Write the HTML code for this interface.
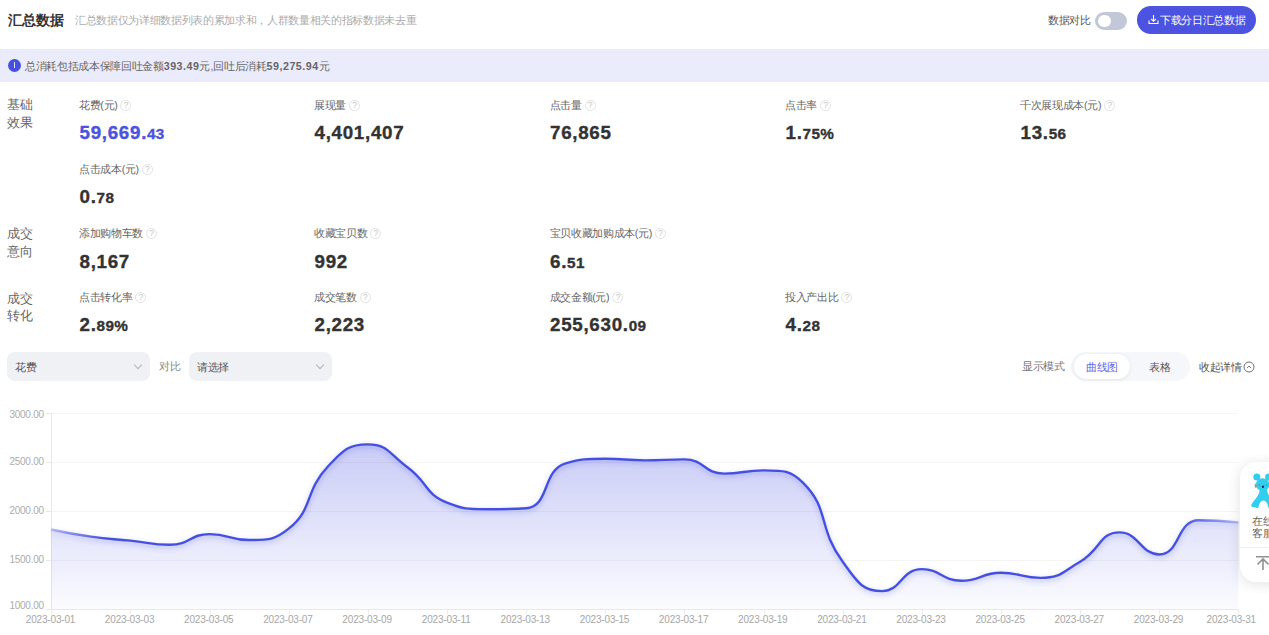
<!DOCTYPE html>
<html><head><meta charset="utf-8">
<style>
html,body{margin:0;padding:0}
body{width:1269px;height:635px;overflow:hidden;position:relative;background:#fff;font-family:"Liberation Sans",sans-serif;color:#333}
.a{position:absolute;white-space:nowrap;line-height:1}
.s{letter-spacing:-0.33px}
.lbl{font-size:10.7px;color:#666;letter-spacing:-0.33px}
.q{display:inline-block;width:9px;height:9px;border:1px solid #e2e2e2;border-radius:50%;color:#c4c4c4;font-size:8.6px;line-height:9.5px;text-align:center;vertical-align:1px;margin-left:3px;font-style:normal;letter-spacing:0}
.val{font-size:18.8px;font-weight:bold;color:#333;letter-spacing:0.7px;-webkit-text-stroke:0.35px currentColor}
.val small{font-size:15.3px;letter-spacing:0.3px}
.grp{font-size:12.5px;color:#666;line-height:17.9px;letter-spacing:0.45px}
.sel{position:absolute;background:#f0f1f5;border-radius:8px;height:29px}
.sel span{position:absolute;left:8px;top:9.5px;font-size:10.7px;color:#555;line-height:1;letter-spacing:-0.33px}
.chev{position:absolute;width:5px;height:5px;border-right:1px solid #b4b4b4;border-bottom:1px solid #b4b4b4;transform:rotate(45deg)}
.yl{position:absolute;font-size:10px;color:#acacac;line-height:1;text-align:right;width:43.8px;letter-spacing:-0.25px}
.xl{position:absolute;font-size:10px;color:#a6a6a6;line-height:1;width:60px;text-align:center;letter-spacing:-0.17px}
b{font-weight:bold;letter-spacing:0.5px}
</style></head><body>
<!-- header -->
<div class="a" style="left:7.5px;top:13px;font-size:14.2px;font-weight:bold;color:#333;letter-spacing:0.1px">汇总数据</div>
<div class="a s" style="left:75px;top:14.5px;font-size:10.7px;color:#aaa">汇总数据仅为详细数据列表的累加求和，人群数量相关的指标数据未去重</div>
<div class="a s" style="left:1048px;top:15px;font-size:10.7px;color:#555">数据对比</div>
<div class="a" style="left:1095.2px;top:12.1px;width:32px;height:17.8px;border-radius:9px;background:#c3c8d9"></div>
<div class="a" style="left:1097.9px;top:14.6px;width:12.8px;height:12.8px;border-radius:50%;background:#fff"></div>
<div class="a" style="left:1137px;top:6px;width:119px;height:28px;border-radius:14px;background:#4b53e0"></div>
<svg class="a" style="left:1148px;top:14px" width="11" height="11" viewBox="0 0 11 11"><path d="M5.5 1v6M3 4.8l2.5 2.4 2.5-2.4M1 6.5v3h9v-3" fill="none" stroke="#fff" stroke-width="1.1"/></svg>
<div class="a s" style="left:1160px;top:14.8px;font-size:10.7px;color:#fff">下载分日汇总数据</div>
<!-- info bar -->
<div class="a" style="left:0;top:48.6px;width:1269px;height:33.5px;background:#ebecfb"></div>
<div class="a" style="left:8px;top:59px;width:13px;height:13px;border-radius:50%;background:#4650e0"></div>
<div class="a" style="left:13.9px;top:62.3px;width:1px;height:5.8px;background:#fff;opacity:0.85"></div>
<div class="a s" style="left:25px;top:60.7px;font-size:10.7px;color:#666">总消耗包括成本保障回吐金额<b>393.49</b>元<span style="margin-left:0.5px">,</span>回吐后消耗<b>59,275.94</b>元</div>
<!-- groups -->
<div class="a grp" style="left:7px;top:97.2px">基础<br>效果</div>
<div class="a grp" style="left:7px;top:226.2px">成交<br>意向</div>
<div class="a grp" style="left:7px;top:290.5px">成交<br>转化</div>
<!-- metrics -->
<div class="a lbl" style="left:79px;top:100px">花费(元)<i class="q">?</i></div>
<div class="a val" style="left:79.5px;top:123.5px;color:#4b53e0">59,669.<small>43</small></div>
<div class="a lbl" style="left:314px;top:100px">展现量<i class="q">?</i></div>
<div class="a val" style="left:314.5px;top:123.5px">4,401,407</div>
<div class="a lbl" style="left:549.5px;top:100px">点击量<i class="q">?</i></div>
<div class="a val" style="left:550.0px;top:123.5px">76,865</div>
<div class="a lbl" style="left:785px;top:100px">点击率<i class="q">?</i></div>
<div class="a val" style="left:785.5px;top:123.5px">1.<small>75%</small></div>
<div class="a lbl" style="left:1020px;top:100px">千次展现成本(元)<i class="q">?</i></div>
<div class="a val" style="left:1020.5px;top:123.5px">13.<small>56</small></div>

<div class="a lbl" style="left:79px;top:164.4px">点击成本(元)<i class="q">?</i></div>
<div class="a val" style="left:79.5px;top:188.0px">0.<small>78</small></div>

<div class="a lbl" style="left:79px;top:228px">添加购物车数<i class="q">?</i></div>
<div class="a val" style="left:79.5px;top:252.5px">8,167</div>
<div class="a lbl" style="left:314px;top:228px">收藏宝贝数<i class="q">?</i></div>
<div class="a val" style="left:314.5px;top:252.5px">992</div>
<div class="a lbl" style="left:549.5px;top:228px">宝贝收藏加购成本(元)<i class="q">?</i></div>
<div class="a val" style="left:550.0px;top:252.5px">6.<small>51</small></div>

<div class="a lbl" style="left:79px;top:292.2px">点击转化率<i class="q">?</i></div>
<div class="a val" style="left:79.5px;top:316.4px">2.<small>89%</small></div>
<div class="a lbl" style="left:314px;top:292.2px">成交笔数<i class="q">?</i></div>
<div class="a val" style="left:314.5px;top:316.4px">2,223</div>
<div class="a lbl" style="left:549.5px;top:292.2px">成交金额(元)<i class="q">?</i></div>
<div class="a val" style="left:550.0px;top:316.4px">255,630.<small>09</small></div>
<div class="a lbl" style="left:785px;top:292.2px">投入产出比<i class="q">?</i></div>
<div class="a val" style="left:785.5px;top:316.4px">4.<small>28</small></div>

<!-- controls -->
<div class="sel" style="left:7px;top:352px;width:143px"><span>花费</span><i class="chev" style="left:128px;top:9.5px"></i></div>
<div class="a s" style="left:159px;top:361px;font-size:10.7px;color:#888">对比</div>
<div class="sel" style="left:189px;top:352px;width:143px"><span>请选择</span><i class="chev" style="left:128px;top:9.5px"></i></div>

<div class="a s" style="left:1022px;top:361px;font-size:10.7px;color:#777">显示模式</div>
<div class="a" style="left:1071px;top:352px;width:119px;height:29px;border-radius:15px;background:#f6f7fa"></div>
<div class="a" style="left:1074px;top:354px;width:56px;height:25px;border-radius:13px;background:#fff;box-shadow:0 1px 4px rgba(0,0,0,0.08)"></div>
<div class="a s" style="left:1086px;top:362px;font-size:10.7px;color:#6369e6">曲线图</div>
<div class="a s" style="left:1149px;top:362px;font-size:10.7px;color:#555">表格</div>
<div class="a s" style="left:1199px;top:362px;font-size:10.7px;color:#555">收起详情</div>
<svg class="a" style="left:1242.7px;top:361.4px" width="12" height="12" viewBox="0 0 12 12"><circle cx="6" cy="6" r="5" fill="none" stroke="#707070" stroke-width="1"/><path d="M3.9 7.1L6 5 8.1 7.1" fill="none" stroke="#808080" stroke-width="1"/></svg>

<!-- chart -->
<svg class="a" style="left:0;top:0" width="1269" height="635">
<defs>
<linearGradient id="g" x1="0" y1="0" x2="0" y2="1">
<stop offset="0" stop-color="#4b53e0" stop-opacity="0.3"/>
<stop offset="1" stop-color="#4b53e0" stop-opacity="0.02"/>
</linearGradient>
<linearGradient id="lg" gradientUnits="userSpaceOnUse" x1="51.3" y1="0" x2="1238.4" y2="0"><stop offset="0" stop-color="#4650e0" stop-opacity="0.35"/><stop offset="0.045" stop-color="#4650e0" stop-opacity="1"/><stop offset="0.95" stop-color="#4650e0" stop-opacity="1"/><stop offset="1" stop-color="#4650e0" stop-opacity="0.35"/></linearGradient>
<filter id="glow" x="-5%" y="-20%" width="110%" height="140%"><feGaussianBlur stdDeviation="2.5"/></filter>
</defs>
<g stroke="#f4f4f4" stroke-width="1">
<path d="M51 413.5H1238.5M51 462.5H1238.5M51 511.5H1238.5M51 560.5H1238.5"/>
</g>
<path d="M51.5 413V610" stroke="#e8e8e8"/>
<path d="M46 413.5H51M46 462.5H51M46 511.5H51M46 560.5H51M46 609.5H51" stroke="#e8e8e8"/>
<path d="M51.30,529.47C51.30,529.47 70.98,533.82 90.87,536.64C110.55,539.42 110.66,538.63 130.44,540.66C150.23,542.70 150.52,544.79 170.01,544.79C190.09,544.79 189.56,534.08 209.58,534.08C229.13,534.08 229.65,540.07 249.15,540.07C269.22,540.07 274.59,540.07 288.72,528.68C314.16,508.18 303.70,492.24 328.29,466.03C343.27,450.07 348.21,444.33 367.86,444.33C387.78,444.33 389.10,453.82 407.43,467.31C428.67,482.93 424.48,493.74 447.00,502.56C464.05,509.24 466.65,509.24 486.57,509.24C506.22,509.24 510.40,509.24 526.14,508.26C549.97,506.77 541.94,470.08 565.71,463.28C581.51,458.76 585.44,458.76 605.28,458.76C625.01,458.76 625.06,460.34 644.85,460.34C664.63,460.34 665.23,459.35 684.42,459.35C704.80,459.35 703.64,473.59 723.99,473.59C743.21,473.59 744.22,470.35 763.56,470.35C783.79,470.35 790.47,470.35 803.13,482.92C830.04,509.63 817.31,527.06 842.70,561.78C856.88,581.17 861.65,591.14 882.27,591.14C901.22,591.14 901.13,569.14 921.84,569.14C940.70,569.14 941.41,580.73 961.41,580.73C980.98,580.73 981.08,572.77 1000.98,572.77C1020.65,572.77 1021.45,577.88 1040.55,577.88C1061.02,577.88 1061.72,572.25 1080.12,561.68C1101.29,549.51 1099.09,532.41 1119.69,532.41C1138.66,532.41 1140.90,554.51 1159.26,554.51C1180.47,554.51 1176.31,520.24 1198.83,520.24C1215.88,520.24 1238.40,522.40 1238.40,522.40L1238.40,609.60L51.30,609.60Z" fill="url(#g)"/>
<path d="M51 609.5H1238.5" stroke="#e8e8e8"/>
<path d="M51.5 610V614.5M130.5 610V614.5M210.5 610V614.5M289.5 610V614.5M368.5 610V614.5M447.5 610V614.5M526.5 610V614.5M605.5 610V614.5M684.5 610V614.5M764.5 610V614.5M843.5 610V614.5M922.5 610V614.5M1001.5 610V614.5M1080.5 610V614.5M1159.5 610V614.5M1238.5 610V614.5" stroke="#ececec"/>
<path d="M51.30,529.47C51.30,529.47 70.98,533.82 90.87,536.64C110.55,539.42 110.66,538.63 130.44,540.66C150.23,542.70 150.52,544.79 170.01,544.79C190.09,544.79 189.56,534.08 209.58,534.08C229.13,534.08 229.65,540.07 249.15,540.07C269.22,540.07 274.59,540.07 288.72,528.68C314.16,508.18 303.70,492.24 328.29,466.03C343.27,450.07 348.21,444.33 367.86,444.33C387.78,444.33 389.10,453.82 407.43,467.31C428.67,482.93 424.48,493.74 447.00,502.56C464.05,509.24 466.65,509.24 486.57,509.24C506.22,509.24 510.40,509.24 526.14,508.26C549.97,506.77 541.94,470.08 565.71,463.28C581.51,458.76 585.44,458.76 605.28,458.76C625.01,458.76 625.06,460.34 644.85,460.34C664.63,460.34 665.23,459.35 684.42,459.35C704.80,459.35 703.64,473.59 723.99,473.59C743.21,473.59 744.22,470.35 763.56,470.35C783.79,470.35 790.47,470.35 803.13,482.92C830.04,509.63 817.31,527.06 842.70,561.78C856.88,581.17 861.65,591.14 882.27,591.14C901.22,591.14 901.13,569.14 921.84,569.14C940.70,569.14 941.41,580.73 961.41,580.73C980.98,580.73 981.08,572.77 1000.98,572.77C1020.65,572.77 1021.45,577.88 1040.55,577.88C1061.02,577.88 1061.72,572.25 1080.12,561.68C1101.29,549.51 1099.09,532.41 1119.69,532.41C1138.66,532.41 1140.90,554.51 1159.26,554.51C1180.47,554.51 1176.31,520.24 1198.83,520.24C1215.88,520.24 1238.40,522.40 1238.40,522.40" fill="none" stroke="url(#lg)" stroke-width="3" stroke-opacity="0.3" filter="url(#glow)" transform="translate(0,2)"/>
<path d="M51.30,529.47C51.30,529.47 70.98,533.82 90.87,536.64C110.55,539.42 110.66,538.63 130.44,540.66C150.23,542.70 150.52,544.79 170.01,544.79C190.09,544.79 189.56,534.08 209.58,534.08C229.13,534.08 229.65,540.07 249.15,540.07C269.22,540.07 274.59,540.07 288.72,528.68C314.16,508.18 303.70,492.24 328.29,466.03C343.27,450.07 348.21,444.33 367.86,444.33C387.78,444.33 389.10,453.82 407.43,467.31C428.67,482.93 424.48,493.74 447.00,502.56C464.05,509.24 466.65,509.24 486.57,509.24C506.22,509.24 510.40,509.24 526.14,508.26C549.97,506.77 541.94,470.08 565.71,463.28C581.51,458.76 585.44,458.76 605.28,458.76C625.01,458.76 625.06,460.34 644.85,460.34C664.63,460.34 665.23,459.35 684.42,459.35C704.80,459.35 703.64,473.59 723.99,473.59C743.21,473.59 744.22,470.35 763.56,470.35C783.79,470.35 790.47,470.35 803.13,482.92C830.04,509.63 817.31,527.06 842.70,561.78C856.88,581.17 861.65,591.14 882.27,591.14C901.22,591.14 901.13,569.14 921.84,569.14C940.70,569.14 941.41,580.73 961.41,580.73C980.98,580.73 981.08,572.77 1000.98,572.77C1020.65,572.77 1021.45,577.88 1040.55,577.88C1061.02,577.88 1061.72,572.25 1080.12,561.68C1101.29,549.51 1099.09,532.41 1119.69,532.41C1138.66,532.41 1140.90,554.51 1159.26,554.51C1180.47,554.51 1176.31,520.24 1198.83,520.24C1215.88,520.24 1238.40,522.40 1238.40,522.40" fill="none" stroke="url(#lg)" stroke-width="2.4"/>
</svg>
<div class="yl" style="left:0px;top:410.3px">3000.00</div>
<div class="yl" style="left:0px;top:457px">2500.00</div>
<div class="yl" style="left:0px;top:506px">2000.00</div>
<div class="yl" style="left:0px;top:555px">1500.00</div>
<div class="yl" style="left:0px;top:601.2px">1000.00</div>
<div class="xl" style="left:20.5px;top:615.3px">2023-03-01</div>
<div class="xl" style="left:99.6px;top:615.3px">2023-03-03</div>
<div class="xl" style="left:178.8px;top:615.3px">2023-03-05</div>
<div class="xl" style="left:257.9px;top:615.3px">2023-03-07</div>
<div class="xl" style="left:337.1px;top:615.3px">2023-03-09</div>
<div class="xl" style="left:416.2px;top:615.3px">2023-03-11</div>
<div class="xl" style="left:495.3px;top:615.3px">2023-03-13</div>
<div class="xl" style="left:574.5px;top:615.3px">2023-03-15</div>
<div class="xl" style="left:653.6px;top:615.3px">2023-03-17</div>
<div class="xl" style="left:732.8px;top:615.3px">2023-03-19</div>
<div class="xl" style="left:811.9px;top:615.3px">2023-03-21</div>
<div class="xl" style="left:891.0px;top:615.3px">2023-03-23</div>
<div class="xl" style="left:970.2px;top:615.3px">2023-03-25</div>
<div class="xl" style="left:1049.3px;top:615.3px">2023-03-27</div>
<div class="xl" style="left:1128.5px;top:615.3px">2023-03-29</div>
<div class="xl" style="left:1201.3px;top:615.3px">2023-03-31</div>
<!-- float widget -->
<div class="a" style="left:1239.8px;top:462px;width:60px;height:120px;border-radius:16px;background:#fff;box-shadow:0 2px 14px rgba(0,0,0,0.12)"></div>
<svg class="a" style="left:1240px;top:462px" width="29" height="119" viewBox="1240 462 29 119">
<g fill="#33cdf0">
<circle cx="1256.8" cy="477" r="3.5"/>
<circle cx="1268.6" cy="477" r="3.5"/>
<ellipse cx="1262.6" cy="484.6" rx="6.9" ry="6.3"/>
<path d="M1259.8 489C1259.5 495 1256 498 1253 502C1251.5 504 1251 505.5 1251.3 506.5L1258.3 508.3C1259 503.5 1261 500.5 1263.4 500.5C1265.8 500.5 1267.8 503.5 1268.5 508.3L1275.5 506.5C1275.8 505.5 1275.3 504 1273.8 502C1270.8 498 1267.3 495 1267 489Z"/>
</g>
<rect x="1254.7" y="483.8" width="2" height="4" fill="#9a9a9a" rx="0.8"/>
<circle cx="1263" cy="486.7" r="1.2" fill="#2a3a44"/>
<circle cx="1259.3" cy="485" r="0.8" fill="#1aa8c8"/>
<circle cx="1266.5" cy="485" r="0.8" fill="#1aa8c8"/>
<path d="M1240 547.5H1269" stroke="#eeeeee" stroke-width="1"/>
<path d="M1256 556.8H1269M1263 559v11M1257.5 564.5L1263 559l5.5 5.5" fill="none" stroke="#909090" stroke-width="1.6"/>
</svg>
<div class="a s" style="left:1252px;top:514.6px;font-size:10.7px;color:#666;line-height:12.6px">在线<br>客服</div>
</body></html>
